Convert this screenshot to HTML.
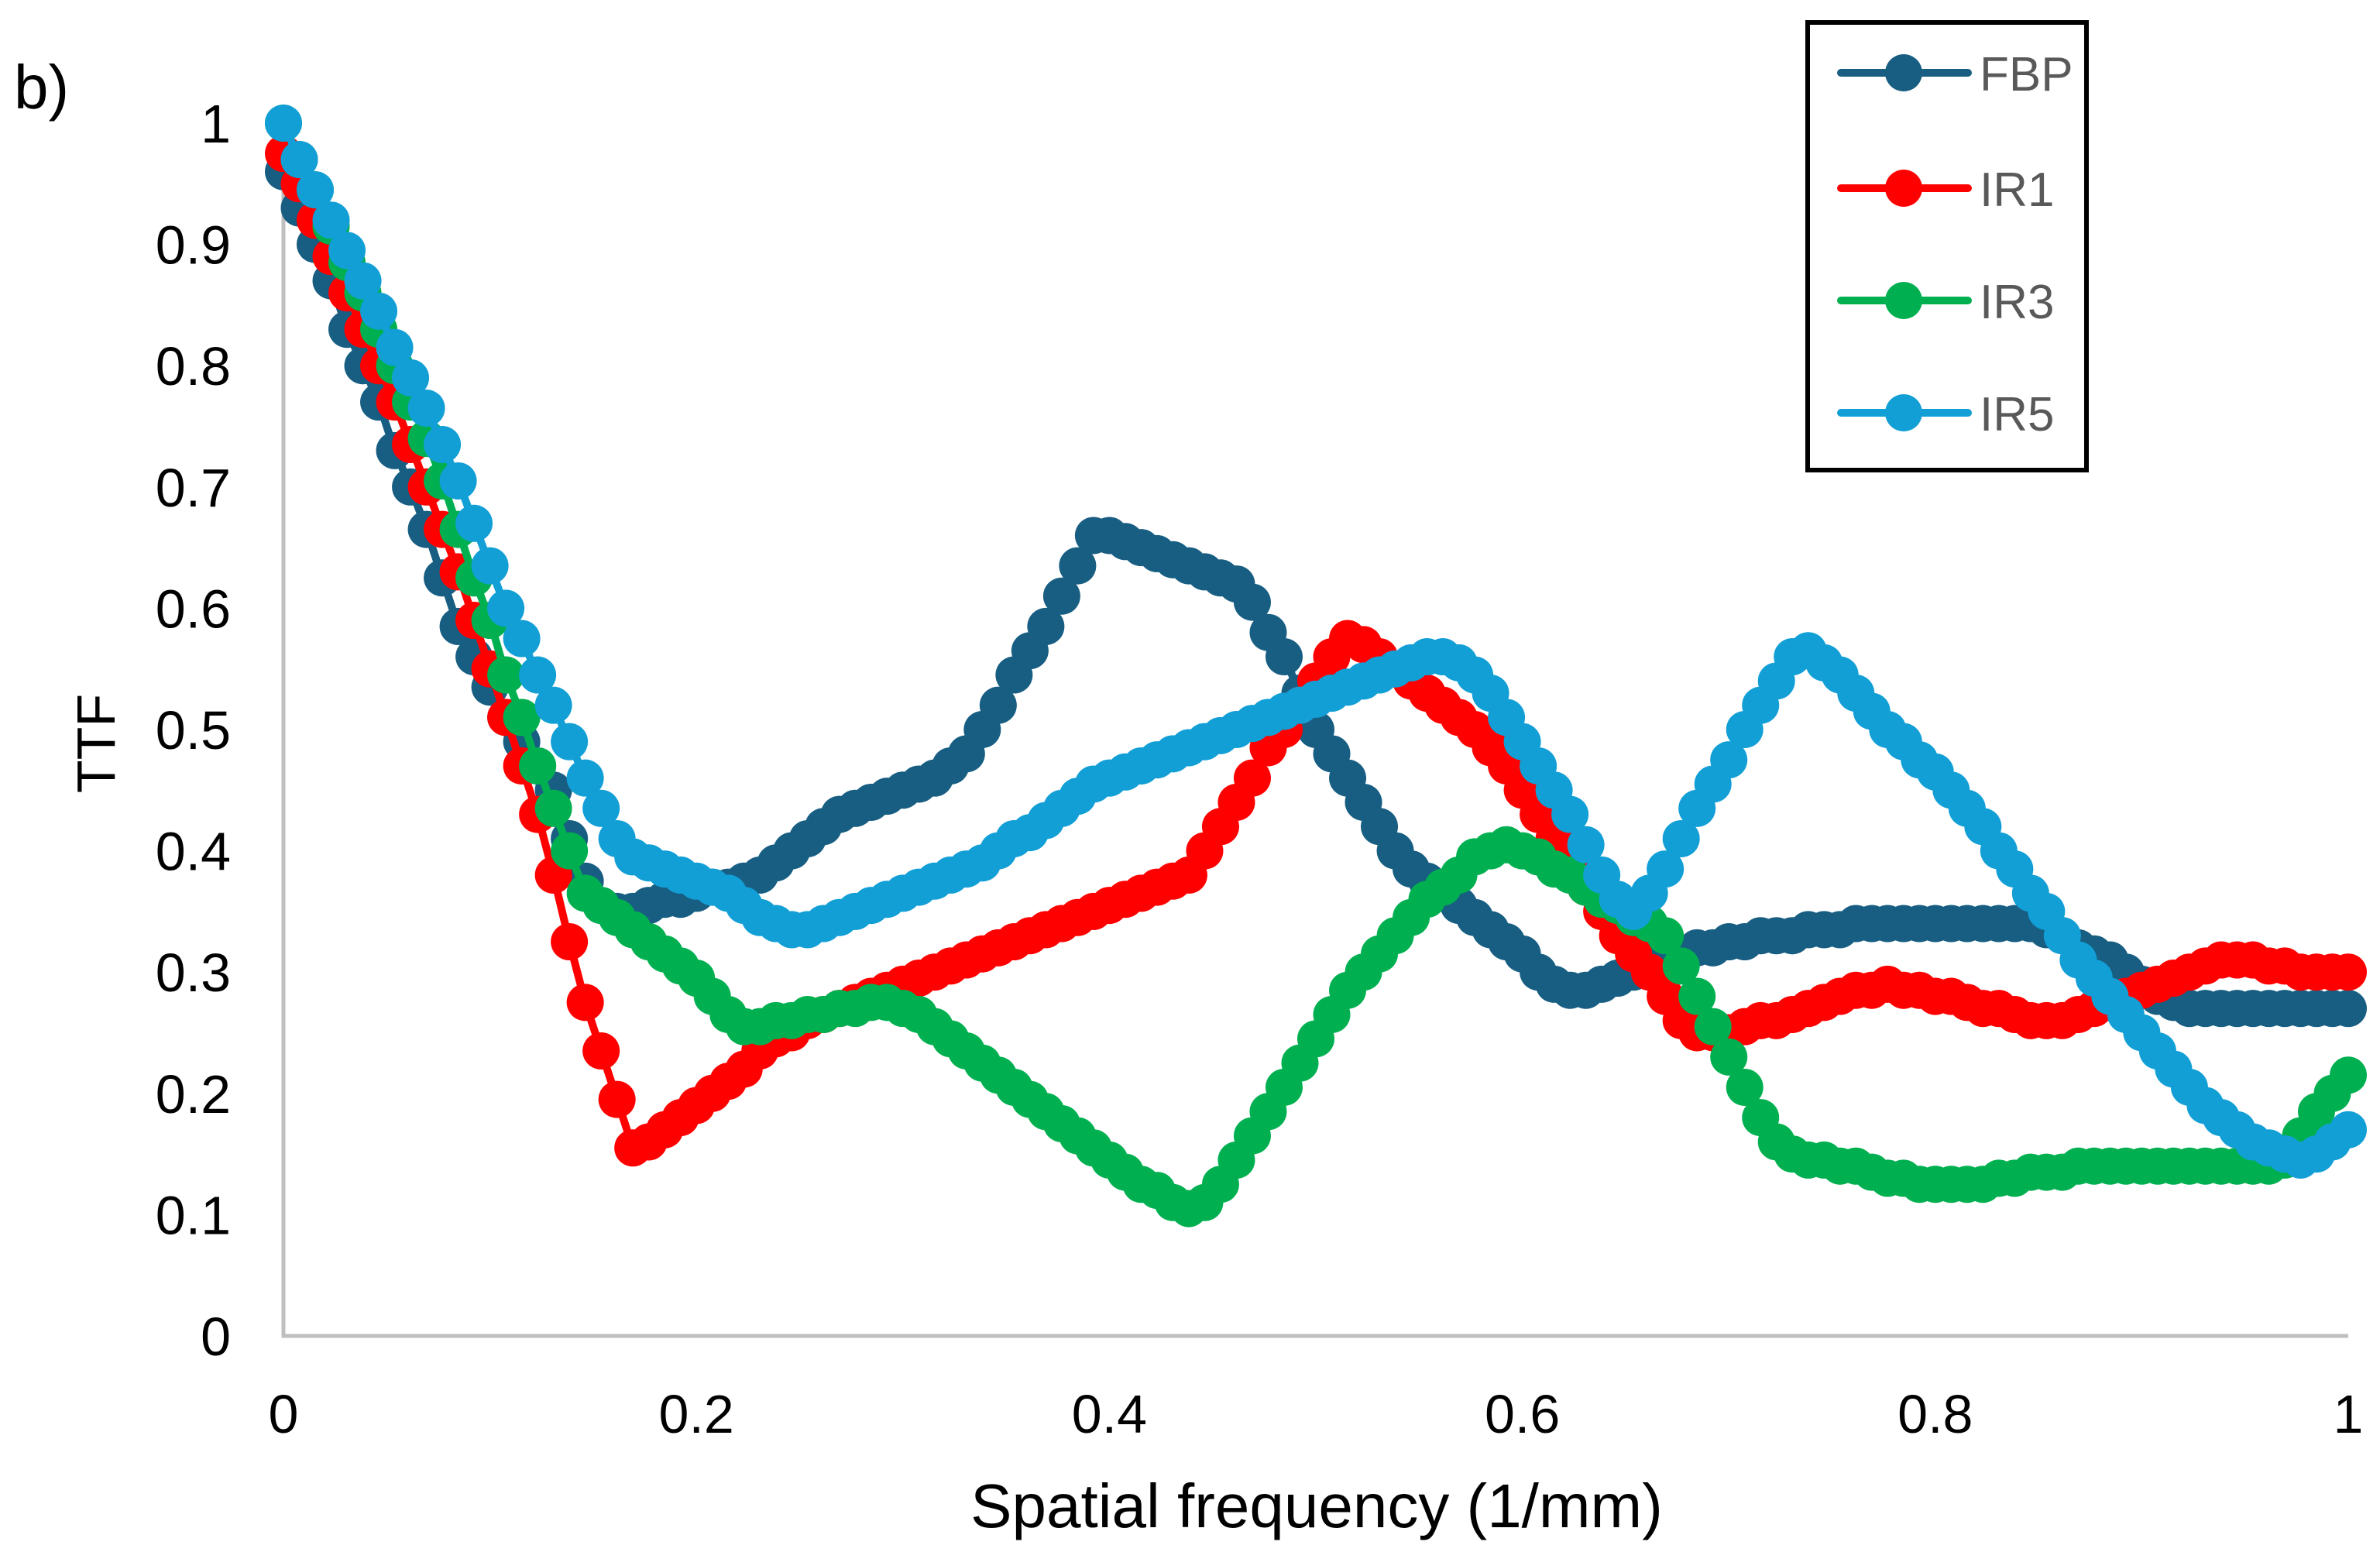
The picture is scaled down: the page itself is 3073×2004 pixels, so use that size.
<!DOCTYPE html>
<html><head><meta charset="utf-8">
<style>
html,body{margin:0;padding:0;background:#fff;}
svg{display:block;font-family:"Liberation Sans",sans-serif;}
</style></head>
<body>
<svg id="chart" width="3073" height="2004" viewBox="0 0 3073 2004" xmlns="http://www.w3.org/2000/svg">
<rect width="3073" height="2004" fill="#fff"/>
<text x="18" y="140" font-size="80" fill="#000">b)</text>
<g id="grid"></g>
<g id="series"></g>
<text x="0" y="0" font-size="70" fill="#000" text-anchor="middle" transform="translate(148,960) rotate(-90)">TTF</text>
<text x="1700" y="1972" font-size="80" fill="#000" text-anchor="middle">Spatial frequency (1/mm)</text>
<g>
<rect x="2334" y="29" width="360" height="578" fill="#fff" stroke="#000" stroke-width="6"/>
<g id="legend-entries"></g>
</g>
</svg>
<script>
const seriesNames = ["FBP","IR1","IR3","IR5"];
const seriesColors = ["#175e82","#ff0000","#00b050","#129fd6"];
const xTicks = [0,0.2,0.4,0.6,0.8,1];
const xTickLabels = ["0","0.2","0.4","0.6","0.8","1"];
const yTicks = [0,0.1,0.2,0.3,0.4,0.5,0.6,0.7,0.8,0.9,1];
const yTickLabels = ["0","0.1","0.2","0.3","0.4","0.5","0.6","0.7","0.8","0.9","1"];
const nIntervals = 130;
const fbp = [.96,.93,.90,.87,.83,.80,.77,.73,.70,.665,.625,.585,.56,.535,.51,.49,.47,.45,.41,.375,.355,.35,.35,.355,.36,.36,.365,.37,.37,.375,.38,.39,.40,.41,.42,.43,.435,.44,.445,.45,.455,.46,.47,.48,.50,.52,.545,.565,.585,.61,.635,.66,.66,.655,.65,.645,.64,.635,.63,.625,.62,.605,.58,.56,.53,.50,.48,.46,.44,.42,.40,.385,.375,.365,.355,.345,.335,.325,.315,.30,.29,.285,.285,.29,.295,.30,.305,.31,.315,.32,.32,.325,.325,.33,.33,.33,.335,.335,.335,.34,.34,.34,.34,.34,.34,.34,.34,.34,.34,.34,.34,.335,.33,.32,.315,.31,.30,.29,.28,.275,.27,.27,.27,.27,.27,.27,.27,.27,.27,.27,.27];
const ir1 = [.975,.95,.92,.89,.86,.83,.80,.77,.735,.70,.665,.63,.59,.55,.51,.47,.43,.38,.325,.275,.235,.195,.155,.16,.17,.18,.19,.20,.21,.22,.235,.245,.25,.26,.265,.27,.275,.28,.285,.29,.295,.30,.305,.31,.315,.32,.325,.33,.335,.34,.345,.35,.355,.36,.365,.37,.375,.38,.40,.42,.44,.46,.485,.50,.52,.54,.56,.575,.57,.56,.55,.54,.53,.52,.51,.50,.485,.47,.45,.43,.41,.39,.37,.35,.33,.315,.30,.28,.26,.25,.25,.25,.255,.26,.26,.265,.27,.275,.28,.285,.285,.29,.285,.285,.28,.28,.275,.27,.27,.265,.26,.26,.26,.265,.27,.275,.28,.285,.29,.295,.30,.305,.31,.31,.31,.305,.305,.30,.30,.30,.30];
const ir3 = [1.0,.97,.945,.915,.885,.86,.83,.80,.77,.74,.705,.665,.625,.59,.545,.51,.47,.435,.40,.365,.355,.345,.335,.325,.315,.305,.295,.28,.265,.255,.255,.26,.26,.265,.265,.27,.27,.275,.275,.27,.265,.255,.245,.235,.225,.215,.205,.195,.185,.175,.165,.155,.145,.135,.125,.12,.11,.105,.11,.125,.145,.165,.185,.205,.225,.245,.265,.285,.30,.315,.33,.345,.36,.37,.38,.395,.40,.405,.40,.395,.385,.38,.37,.36,.355,.345,.34,.33,.305,.28,.255,.23,.205,.18,.16,.15,.145,.145,.14,.14,.135,.13,.13,.125,.125,.125,.125,.125,.13,.13,.135,.135,.135,.14,.14,.14,.14,.14,.14,.14,.14,.14,.14,.14,.14,.14,.145,.165,.185,.20,.215];
const ir5 = [1.0,.97,.945,.92,.895,.87,.845,.815,.79,.765,.735,.705,.67,.635,.60,.575,.545,.52,.49,.46,.435,.41,.395,.39,.385,.38,.375,.37,.365,.355,.345,.34,.335,.335,.34,.345,.35,.355,.36,.365,.37,.375,.38,.385,.39,.40,.41,.415,.425,.435,.445,.455,.46,.465,.47,.475,.48,.485,.49,.495,.50,.505,.51,.515,.52,.525,.53,.535,.54,.545,.55,.555,.56,.56,.555,.545,.53,.51,.49,.47,.45,.43,.405,.38,.36,.35,.365,.385,.41,.435,.455,.475,.50,.52,.54,.56,.565,.555,.545,.53,.515,.50,.49,.475,.465,.45,.435,.42,.40,.385,.365,.35,.33,.31,.295,.28,.265,.25,.235,.22,.205,.19,.18,.17,.16,.155,.15,.145,.15,.16,.17];

const X0=366, X1=3032, Y0=1725, Y1=159;
function xScale(v){return X0+(X1-X0)*v;}
function yScale(v){return Y0-(Y0-Y1)*v;}
const NS="http://www.w3.org/2000/svg";
function mk(tag,attrs,parent){const e=document.createElementNS(NS,tag);for(const k in attrs)e.setAttribute(k,attrs[k]);parent.appendChild(e);return e;}

const grid=document.getElementById('grid');
const yAxis=mk('line',{x1:X0,y1:Y1,x2:X0,y2:Y0+2,stroke:'#bfbfbf','stroke-width':5},grid);


const xAxis=mk('line',{x1:X0-2,y1:Y0,x2:X1,y2:Y0,stroke:'#bfbfbf','stroke-width':5},grid);


yTicks.forEach((t,i)=>{
  const tx=mk('text',{x:298,y:yScale(t)+25,'font-size':70,'text-anchor':'end',fill:'#000'},grid);
  tx.textContent=yTickLabels[i];
  
  
});
xTicks.forEach((t,i)=>{
  const tx=mk('text',{x:xScale(t),y:1850,'font-size':70,'text-anchor':'middle',fill:'#000'},grid);
  tx.textContent=xTickLabels[i];
  
  
});

const allSeries=[fbp,ir1,ir3,ir5];
const sg=document.getElementById('series');
allSeries.forEach((vals,s)=>{
  const g=mk('g',{},sg);
  
  
  const pts=vals.map((v,i)=>xScale(i/nIntervals).toFixed(1)+','+yScale(v).toFixed(1)).join(' ');
  const pl=mk('polyline',{points:pts,fill:'none',stroke:seriesColors[s],'stroke-width':10,'stroke-linejoin':'round'},g);
  
  
  vals.forEach((v,i)=>{
    const c=mk('circle',{cx:xScale(i/nIntervals),cy:yScale(v),r:24,fill:seriesColors[s]},g);
    
    
  });
});

const lg=document.getElementById('legend-entries');
const legendY=[94,243,388,533];
seriesNames.forEach((n,s)=>{
  const g=mk('g',{},lg);
  
  
  mk('line',{x1:2377,y1:legendY[s],x2:2541,y2:legendY[s],stroke:seriesColors[s],'stroke-width':10,'stroke-linecap':'round'},g);
  mk('circle',{cx:2458,cy:legendY[s],r:24,fill:seriesColors[s]},g);
  const t=mk('text',{x:2556,y:legendY[s]+23,'font-size':62,fill:'#595959'},g);
  t.textContent=n;
});
</script>
</body></html>
